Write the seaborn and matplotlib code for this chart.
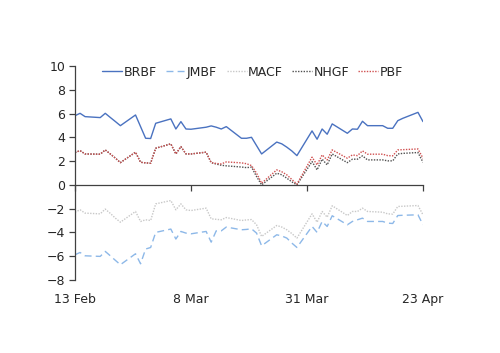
#!/usr/bin/env python3

import numpy as np
import pandas as pd
import matplotlib
matplotlib.use('Agg')
import matplotlib.pyplot as plt
import seaborn as sns

SET_DPI = 100
FIGSIZE = (5.0, 3.53)

# business days 13 Feb - 23 Apr 2013
DATES = pd.bdate_range('2013-02-13', '2013-04-23')

BRBF = [5.82, 6.02, 5.74, 5.66, 6.02, 5.67, 5.33, 4.98, 5.88, 4.90,
        3.92, 3.90, 5.18, 5.55, 4.70, 5.32, 4.70, 4.68, 4.85, 4.96,
        4.85, 4.70, 4.90, 3.92, 3.92, 4.00, 3.30, 2.60, 3.60, 3.45,
        3.17, 2.85, 2.46, 4.54, 3.84, 4.70, 4.26, 5.13, 4.34, 4.70,
        4.68, 5.35, 4.98, 4.98, 4.76, 4.76, 5.40, 5.60, 6.10, 5.32]
JMBF = [-5.88, -5.69, -5.97, -6.02, -5.60, -5.97, -6.35, -6.72, -5.80, -6.64,
        -5.40, -5.27, -4.00, -3.72, -4.56, -3.92, -4.06, -4.12, -3.92, -4.82,
        -3.87, -3.87, -3.55, -3.78, -3.75, -3.70, -4.06, -5.13, -4.20, -4.30,
        -4.48, -4.90, -5.27, -3.50, -4.00, -3.08, -3.50, -2.60, -3.36, -3.08,
        -2.94, -2.80, -3.08, -3.08, -3.22, -3.25, -2.58, -2.56, -2.52, -3.36]
MACF = [-2.30, -2.10, -2.38, -2.44, -2.04, -2.40, -2.80, -3.14, -2.24, -3.08,
        -2.94, -3.00, -1.60, -1.32, -2.10, -1.60, -2.10, -2.16, -1.96, -2.86,
        -2.90, -2.94, -2.75, -3.00, -2.95, -2.92, -3.36, -4.34, -3.42, -3.55,
        -3.78, -4.10, -4.48, -2.44, -3.14, -2.24, -2.72, -1.76, -2.58, -2.24,
        -2.24, -1.96, -2.24, -2.30, -2.44, -2.46, -1.82, -1.80, -1.74, -2.52]
NHGF = [2.72, 2.88, 2.60, 2.58, 2.94, 2.60, 2.25, 1.87, 2.75, 1.90,
        1.85, 1.82, 3.08, 3.45, 2.60, 3.22, 2.60, 2.60, 2.75, 1.87,
        1.75, 1.65, 1.60, 1.50, 1.45, 1.49, 0.70, 0.00, 0.98, 0.85,
        0.56, 0.25, 0.00, 1.96, 1.26, 2.16, 1.68, 2.60, 1.87, 2.16,
        2.16, 2.44, 2.10, 2.10, 2.02, 2.02, 2.60, 2.65, 2.72, 1.90]
PBF = [2.72, 2.88, 2.60, 2.58, 2.94, 2.60, 2.25, 1.87, 2.75, 1.90,
       1.85, 1.82, 3.08, 3.45, 2.60, 3.22, 2.60, 2.60, 2.75, 1.87,
       1.80, 1.76, 1.93, 1.85, 1.78, 1.62, 0.98, 0.14, 1.26, 1.10,
       0.84, 0.45, 0.06, 2.33, 1.68, 2.52, 2.10, 2.94, 2.24, 2.52,
       2.46, 2.86, 2.58, 2.58, 2.46, 2.44, 2.94, 2.96, 3.02, 2.24]

SERIES = ['BRBF', 'JMBF', 'MACF', 'NHGF', 'PBF']
COLOURS = ['#4a72c0', '#8db8e8', '#c8c8c8', '#505050', '#d05050']
STYLES = ['-', (0, (5, 3)), (0, (1, 1)), (0, (1, 1)), (0, (1, 1))]
TICK_DATES = ['2013-02-13', '2013-03-08', '2013-03-31', '2013-04-23']
TICK_LABELS = ['13 Feb', '8 Mar', '31 Mar', '23 Apr']


def plot_funds(data):
    sns.set_style('white')
    plt.rcParams['font.family'] = ['DejaVu Sans']
    fig = plt.figure(figsize=FIGSIZE, dpi=SET_DPI)
    ax = fig.add_axes([0.15, 0.207, 0.696, 0.606])

    for i, name in enumerate(SERIES):
        sns.lineplot(x=data.index, y=data[name], ax=ax, color=COLOURS[i],
                     linestyle=STYLES[i], linewidth=1.0, label=name)

    ax.set_xlim(pd.Timestamp(TICK_DATES[0]), pd.Timestamp(TICK_DATES[-1]))
    ax.set_ylim(-8, 10)
    ax.set_yticks(np.arange(-8, 11, 2))
    ax.set_xticks(pd.to_datetime(TICK_DATES))
    ax.set_xticklabels(TICK_LABELS)
    ax.set_xlabel('')
    ax.set_ylabel('')

    for side in ['top', 'right']:
        ax.spines[side].set_visible(False)
    ax.spines['bottom'].set_position(('data', 0))
    for side in ['left', 'bottom']:
        ax.spines[side].set_color('#404040')
        ax.spines[side].set_linewidth(0.9)

    ax.tick_params(axis='y', direction='out', length=4, width=0.9,
                   color='#404040', labelsize=9, pad=3, left=True)
    ax.tick_params(axis='x', direction='out', length=4, width=0.9,
                   color='#404040', labelsize=9, pad=74, bottom=True)

    ax.legend(loc='center', bbox_to_anchor=(0.51, 0.972), ncol=5,
              frameon=False, fontsize=9, handlelength=1.6,
              handletextpad=0.1, columnspacing=0.75)

    fig.savefig('out.png', dpi=SET_DPI)
    plt.close(fig)


if __name__ == '__main__':
    data = pd.DataFrame({'BRBF': BRBF, 'JMBF': JMBF, 'MACF': MACF,
                         'NHGF': NHGF, 'PBF': PBF}, index=DATES)
    plot_funds(data)
